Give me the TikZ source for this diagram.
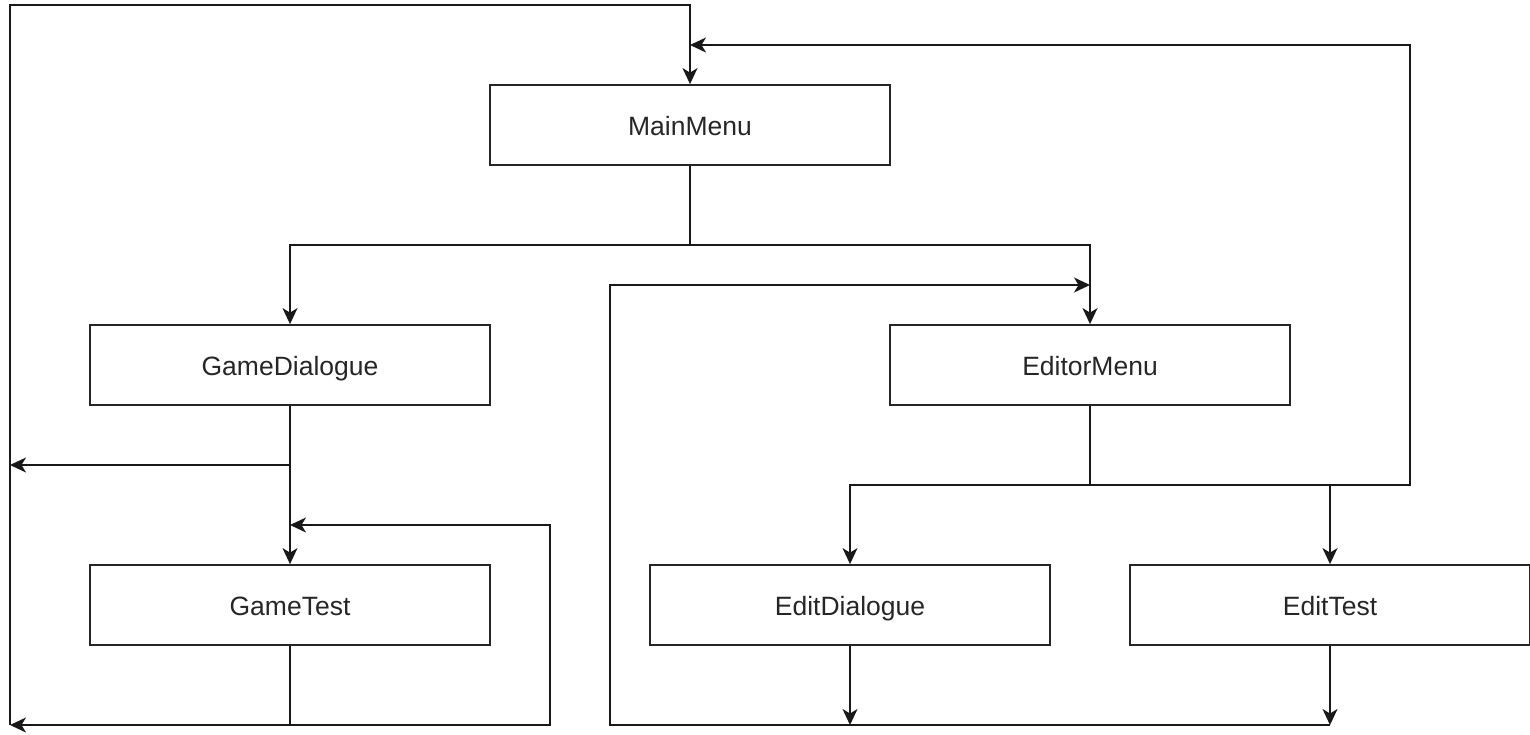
\documentclass[tikz,border=0pt]{standalone}
\usepackage{fontspec}
\setmainfont{Liberation Sans}
\usetikzlibrary{arrows.meta}
\begin{document}
\begin{tikzpicture}[x=1pt,y=-1pt,
  box/.style={draw=black!85,line width=1.8pt,minimum width=400pt,minimum height=80pt,inner sep=0pt,text height=24pt,text depth=3pt,font=\fontsize{26.5}{30}\selectfont,text=black!85},
  conn/.style={draw=black!90,line width=1.8pt},
  arr/.style={conn,-{Stealth[length=16pt,width=15pt,inset=4.5pt]}}]
\useasboundingbox (0,0) rectangle (1530,734);
\node[box] (main) at (690,125) {MainMenu};
\node[box] (gd) at (290,365) {GameDialogue};
\node[box] (em) at (1090,365) {EditorMenu};
\node[box] (gt) at (290,605) {GameTest};
\node[box] (ed) at (850,605) {EditDialogue};
\node[box] (et) at (1330,605) {EditTest};
% coordinates
\coordinate (top) at (690,5);
\coordinate (lefttop) at (10,5);
\coordinate (leftmid) at (10,465);
\coordinate (leftbot) at (10,725);
\coordinate (mmsplit) at (690,245);
\coordinate (gdsplit) at (290,465);
\coordinate (gtloopin) at (290,525);
\coordinate (gtbot) at (290,725);
\coordinate (emsplit) at (1090,485);
\coordinate (emin) at (1090,285);
\coordinate (mmin) at (690,45);
% MainMenu -> GameDialogue, EditorMenu
\draw[arr] (main.south) -- (mmsplit) -| (gd.north);
\draw[arr] (mmsplit) -| (em.north);
% GameDialogue -> GameTest, and back left
\draw[arr] (gd.south) -- (gt.north);
\draw[arr] (gdsplit) -- (leftmid);
% left return to MainMenu
\draw[arr] (leftbot) -- (lefttop) -- (top) -- (main.north);
% GameTest outputs
\draw[arr] (gt.south) -- (gtbot) -- (leftbot);
\draw[arr] (gtbot) -- (550,725) -- (550,525) -- (gtloopin);
% EditorMenu -> EditDialogue, EditTest, and back to MainMenu
\draw[conn] (em.south) -- (emsplit);
\draw[arr] (emsplit) -| (ed.north);
\draw[arr] (emsplit) -| (et.north);
\draw[arr] (emsplit) -- (1410,485) -- (1410,45) -- (mmin);
% EditDialogue / EditTest back to EditorMenu
\draw[arr] (ed.south) -- (850,725);
\draw[arr] (et.south) -- (1330,725);
\draw[arr] (1330,725) -- (610,725) -- (610,285) -- (emin);
\end{tikzpicture}
\end{document}
